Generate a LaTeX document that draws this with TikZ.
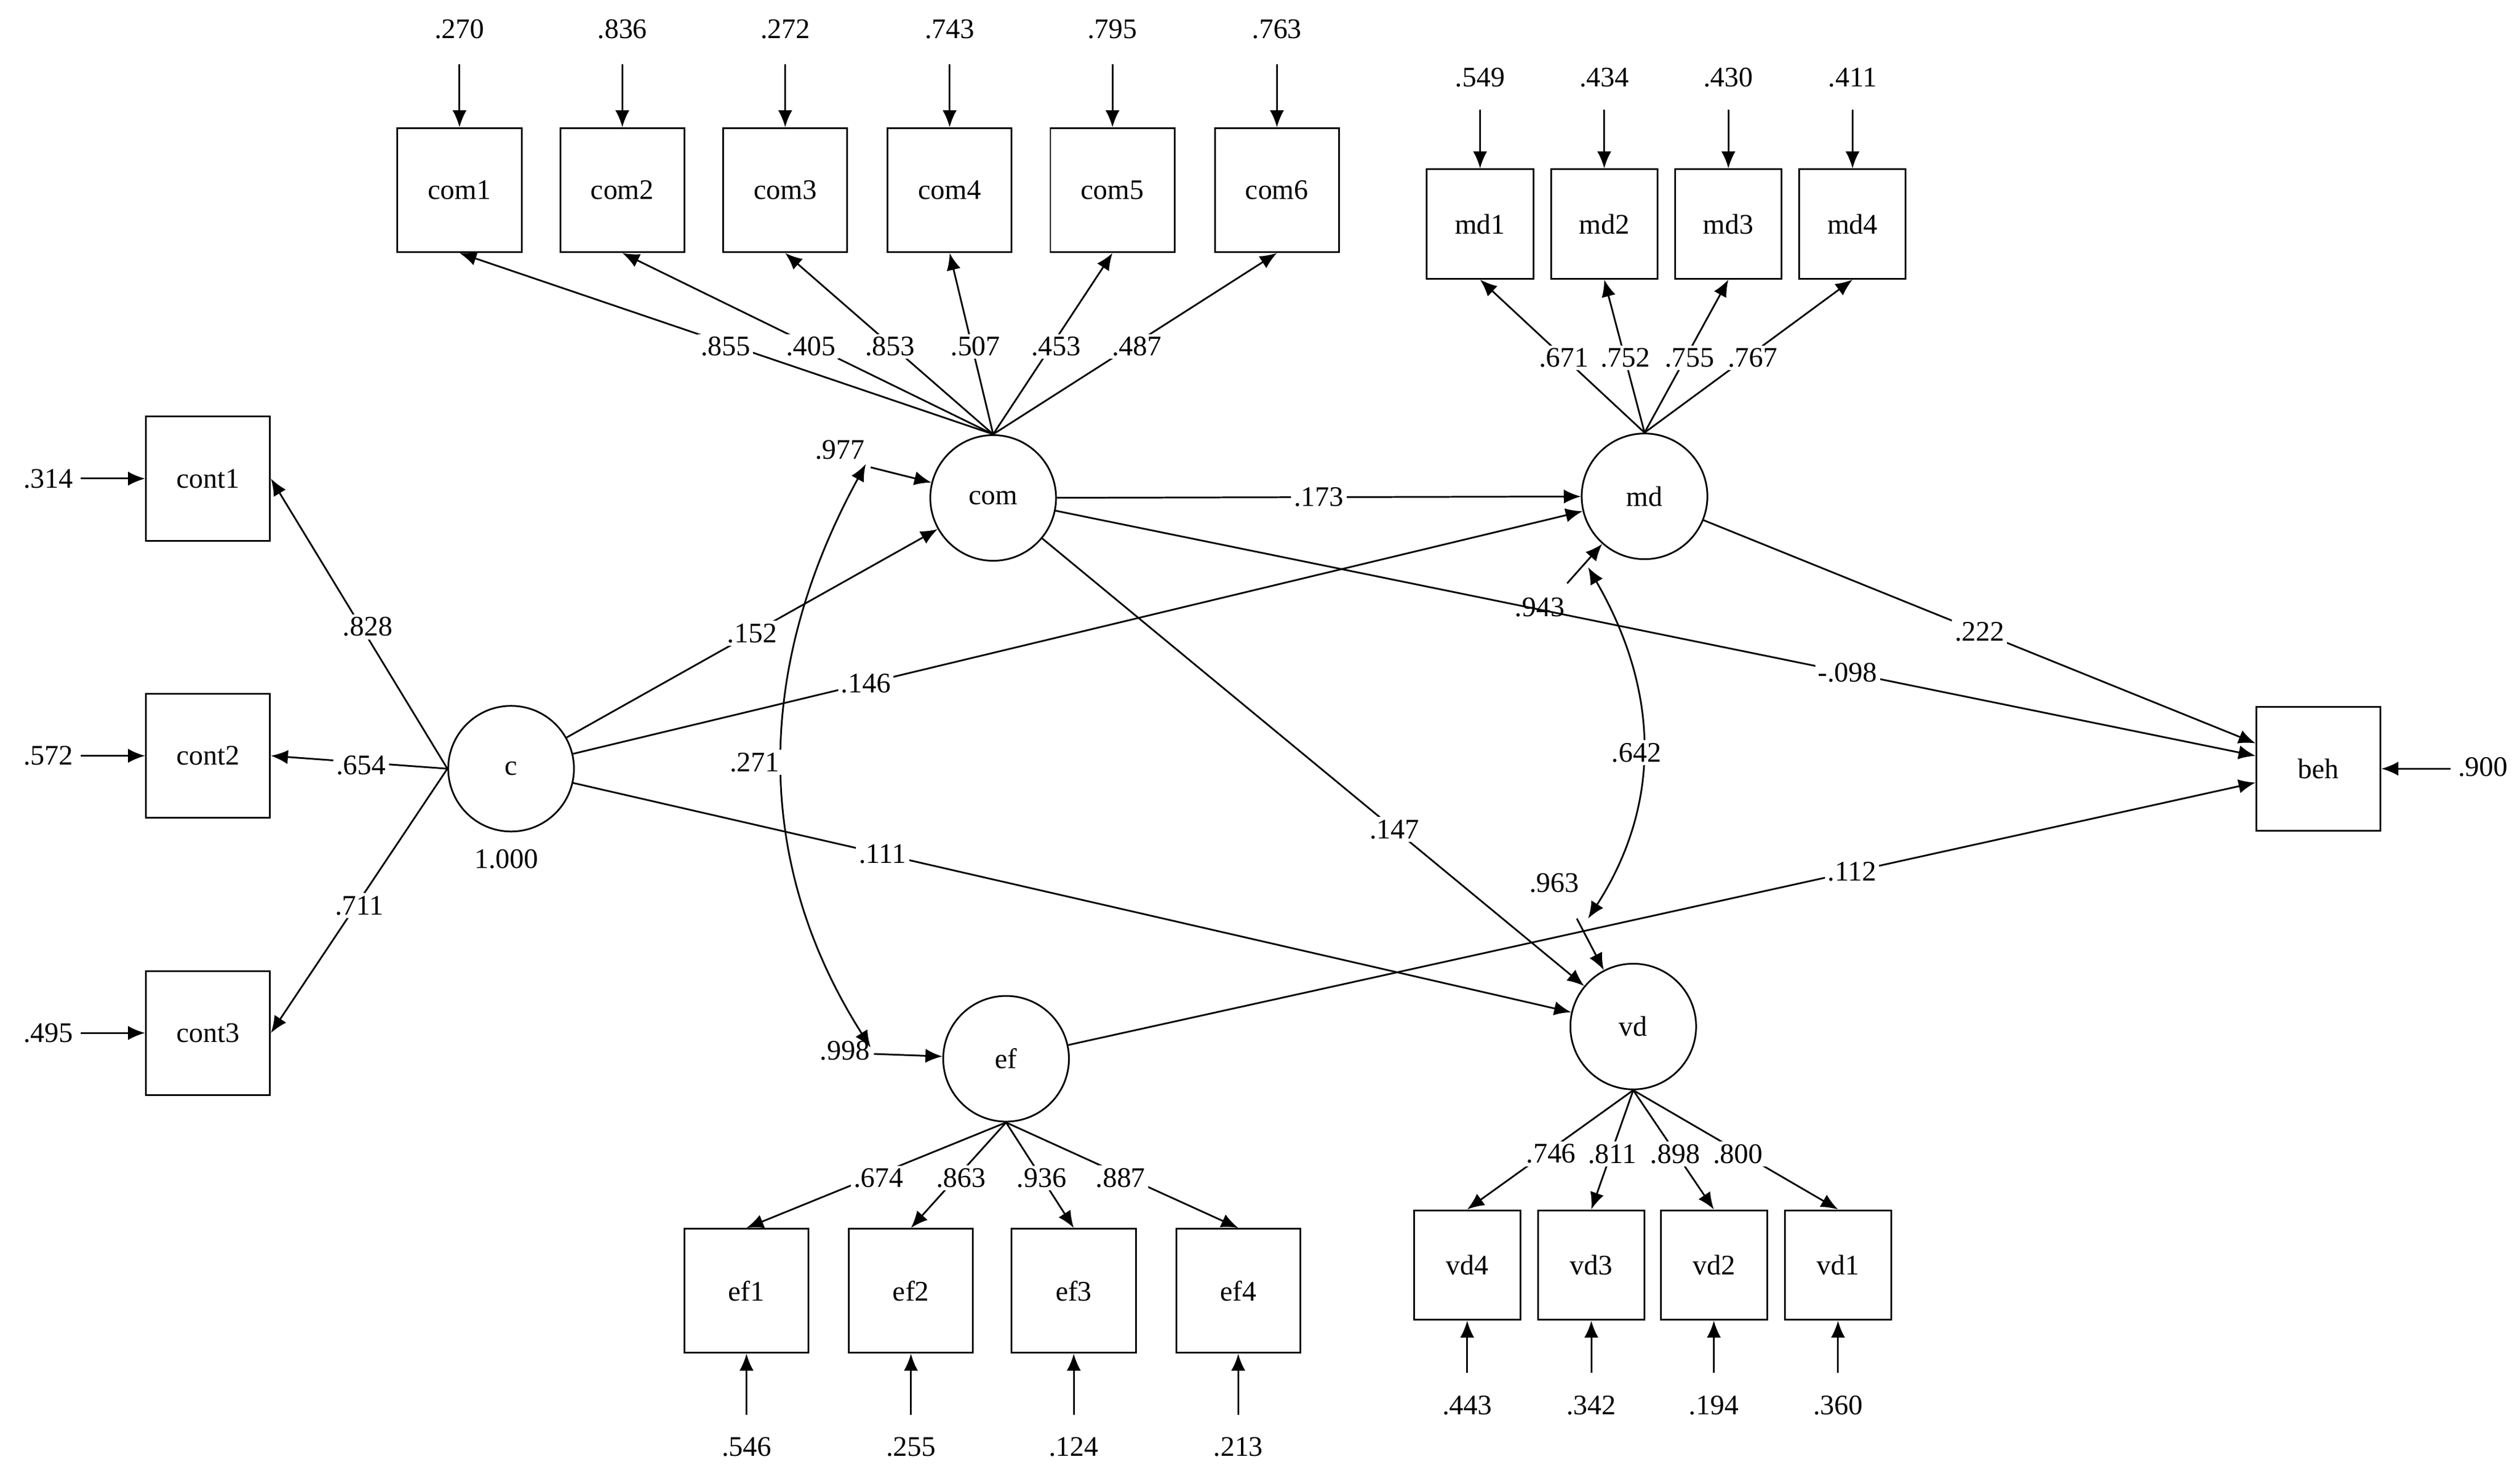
\documentclass[tikz,border=0pt]{standalone}
\usepackage{fontspec}
\setmainfont{Liberation Serif}
\usetikzlibrary{arrows.meta}
\begin{document}
\begin{tikzpicture}[x=0.02cm,y=-0.02cm,font=\fontsize{10}{12}\selectfont,
  ar/.style={-{Latex[length=6pt,width=5pt]},line width=0.6pt},
  da/.style={{Latex[length=6pt,width=5pt]}-{Latex[length=6pt,width=5pt]},line width=0.6pt},
  box/.style={draw,line width=0.6pt,minimum width=1.54cm,minimum height=1.54cm},
  sbox/.style={draw,line width=0.6pt,minimum width=1.32cm,minimum height=1.36cm},
  lat/.style={draw,circle,line width=0.6pt,minimum size=1.56cm,inner sep=0pt},
  lb/.style={fill=white,inner sep=1pt},
  tx/.style={inner sep=1pt}]
\useasboundingbox (0,0) rectangle (1563,912);
% latent
\node[lat] (c) at (317,477) {c};
\node[lat] (com) at (616,309) {com};
\node[lat] (md) at (1020,308) {md};
\node[lat] (ef) at (624,657) {ef};
\node[lat] (vd) at (1013,637) {vd};
\node[box] (beh) at (1438,477) {beh};
\node[tx] at (314,533) {1.000};
% com indicators
\foreach \i/\x/\e/\l/\lx in {1/285/.270/.855/450,2/386/.836/.405/503,3/487/.272/.853/552,4/589/.743/.507/605,5/690/.795/.453/655,6/792/.763/.487/705}{
  \node[box] (com\i) at (\x,118) {com\i};
  \node[tx] (ecom\i) at (\x,18) {\e};
  \draw[ar] (\x,40) -- (com\i.north);
  \draw[ar] (com.north) -- (com\i.south);
  \node[lb] at (\lx,215) {\l};
}
% md indicators
\foreach \i/\x/\e/\l/\lx in {1/918/.549/.671/970,2/995/.434/.752/1008,3/1072/.430/.755/1048,4/1149/.411/.767/1087}{
  \node[sbox] (md\i) at (\x,139) {md\i};
  \node[tx] (emd\i) at (\x,48) {\e};
  \draw[ar] (\x,68) -- (md\i.north);
  \draw[ar] (md.north) -- (md\i.south);
  \node[lb] at (\lx,222) {\l};
}
% cont indicators
\foreach \i/\y/\e/\l/\ly/\lx in {1/297/.314/.828/389/228,2/469/.572/.654/475/224,3/641/.495/.711/562/223}{
  \node[box] (cont\i) at (129,\y) {cont\i};
  \node[tx] (econt\i) at (30,\y) {\e};
  \draw[ar] (50,\y) -- (cont\i.west);
  \draw[ar] (c.west) -- (cont\i.east);
  \node[lb] at (\lx,\ly) {\l};
}
% ef indicators
\foreach \i/\x/\e/\l/\lx in {1/463/.546/.674/545,2/565/.255/.863/596,3/666/.124/.936/646,4/768/.213/.887/695}{
  \node[box] (ef\i) at (\x,801) {ef\i};
  \node[tx] (eef\i) at (\x,898) {\e};
  \draw[ar] (\x,878) -- (ef\i.south);
  \draw[ar] (ef.south) -- (ef\i.north);
  \node[lb] at (\lx,731) {\l};
}
% vd indicators
\foreach \i/\x/\e/\l/\lx in {4/910/.443/.746/962,3/987/.342/.811/1000,2/1063/.194/.898/1039,1/1140/.360/.800/1078}{
  \node[sbox] (vd\i) at (\x,785) {vd\i};
  \node[tx] (evd\i) at (\x,872) {\e};
  \draw[ar] (\x,852) -- (vd\i.south);
  \draw[ar] (vd.south) -- (vd\i.north);
  \node[lb] at (\lx,716) {\l};
}
% beh error
\node[tx] (ebeh) at (1540,476) {.900};
\draw[ar] (1520,477) -- (beh.east);
% structural paths
\draw[ar] (c) -- node[lb,pos=0.5] {.152} (com);
\draw[ar] (c) -- node[lb,pos=0.29] {.146} (md);
\draw[ar] (c) -- node[lb,pos=0.31] {.111} (vd);
\draw[ar] (com) -- node[lb,pos=0.5] {.173} (md);
\draw[ar] (com) -- node[lb,pos=0.66] {-.098} (beh);
\draw[ar] (md) -- node[lb,pos=0.5] {.222} (beh);
\draw[ar] (com) -- node[lb,pos=0.65] {.147} (vd);
\draw[ar] (ef) -- node[lb,pos=0.66] {.112} (beh);
% residual variances
\node[tx] (v977) at (521,279) {.977};
\coordinate (r1) at (540,290);
\draw[ar] (r1) -- (com);
\node[tx] (v998) at (524,652) {.998};
\coordinate (r2) at (542,654);
\draw[ar] (r2) -- (ef);
\draw[da] (537,288) .. controls (465,420) and (470,540) .. (540,650);
\node[lb] at (468,473) {.271};
\node[tx] (v943) at (955,377) {.943};
\coordinate (r3) at (972,362);
\draw[ar] (r3) -- (md);
\node[tx] (v963) at (964,548) {.963};
\coordinate (r4) at (978,570);
\draw[ar] (r4) -- (vd);
\draw[da] (985,352) .. controls (1030,430) and (1030,500) .. (985,570);
\node[lb] at (1015,467) {.642};
\end{tikzpicture}
\end{document}
